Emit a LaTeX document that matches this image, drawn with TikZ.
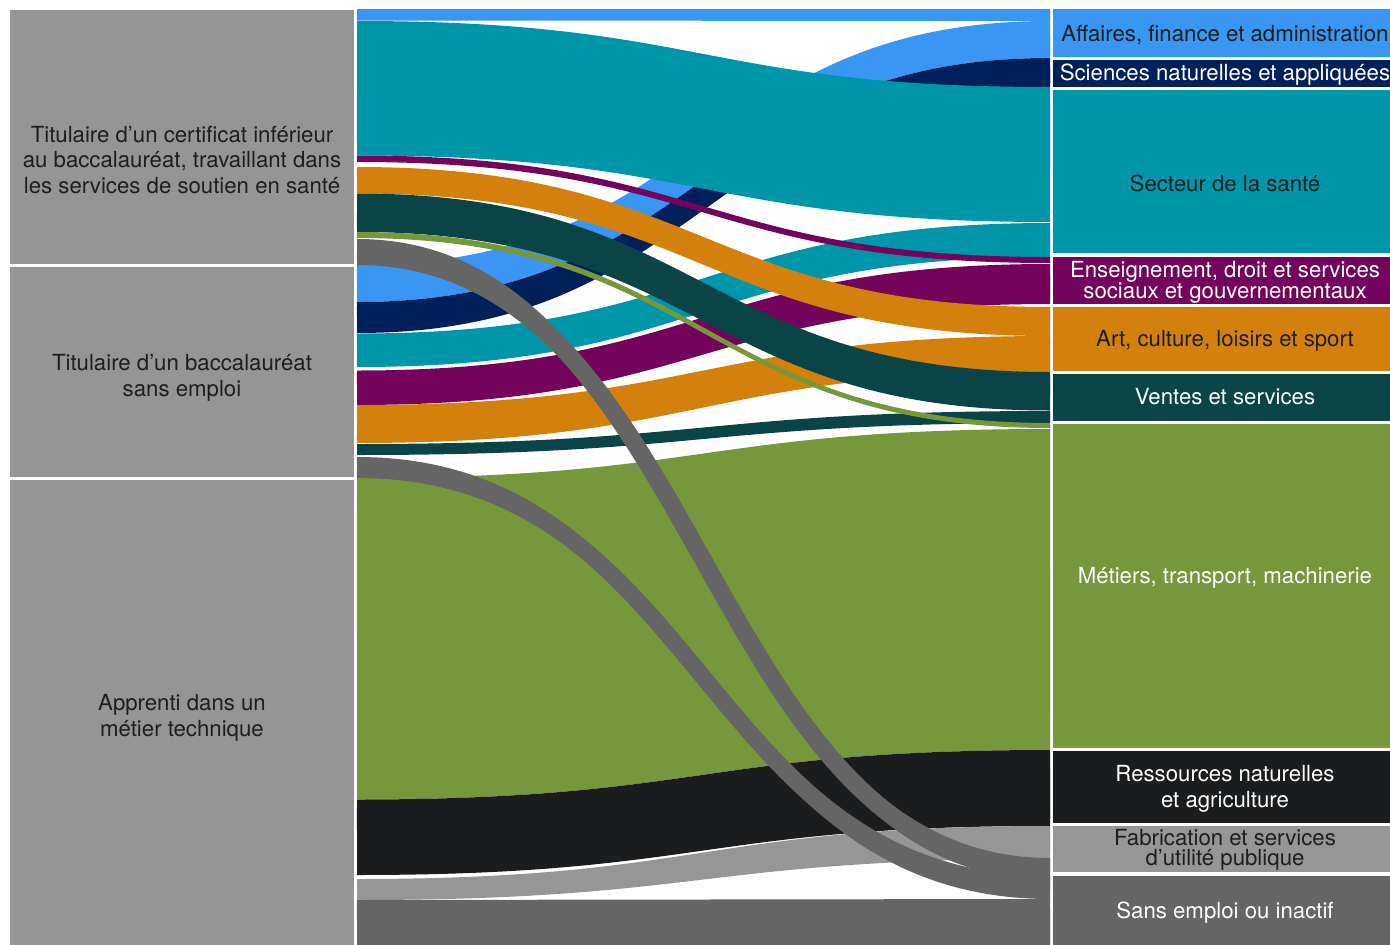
\documentclass[tikz,border=0pt]{standalone}
\usepackage{fontspec}
\setmainfont{TeX Gyre Heros}

% palette
\definecolor{srcgray}{HTML}{959595}
\definecolor{cBlue}{HTML}{3A96F3}
\definecolor{cNavy}{HTML}{00205B}
\definecolor{cTeal}{HTML}{0096A9}
\definecolor{cPurple}{HTML}{74035C}
\definecolor{cOrange}{HTML}{D4800C}
\definecolor{cDarkTeal}{HTML}{0A4446}
\definecolor{cGreen}{HTML}{76973B}
\definecolor{cBlack}{HTML}{1B1C1E}
\definecolor{cLightGray}{HTML}{969696}
\definecolor{cDarkGray}{HTML}{656565}
\definecolor{ink}{HTML}{1E1E1E}

\tikzset{
  lbl/.style={align=center, inner sep=0pt, font=\fontsize{22.2}{25.5}\selectfont, text=ink},
  lblw/.style={lbl, text=white},
}

% a Sankey ribbon: colour, left top, left bottom, right top, right bottom;
% the band is filled between two S-curves and thickened along its spine
\newcommand{\sankeylink}[5]{%
  \fill[#1] (357,#2) .. controls (703.5,#2) and (703.5,#4) .. (1050,#4)
    -- (1050,#5) .. controls (703.5,#5) and (703.5,#3) .. (357,#3) -- cycle;
  \pgfmathsetmacro\linkwd{0.8*min(#3-#2,#5-#4)}%
  \pgfmathsetmacro\linkyl{(#2+#3)/2}%
  \pgfmathsetmacro\linkyr{(#4+#5)/2}%
  \draw[#1, line width=\linkwd pt] (357,\linkyl) .. controls (703.5,\linkyl) and (703.5,\linkyr) .. (1050,\linkyr);}

\begin{document}
\begin{tikzpicture}[x=1pt,y=-1pt]
\useasboundingbox (0,0) rectangle (1390,945);

% source blocks
\fill[srcgray] (10,9.5) rectangle (354,263.5);
\fill[srcgray] (10,266.5) rectangle (354,476.5);
\fill[srcgray] (10,479.5) rectangle (354,950);

% destination blocks
\fill[cBlue]      (1053,9)     rectangle (1397,57);
\fill[cNavy]      (1053,60)    rectangle (1397,87);
\fill[cTeal]      (1053,90)    rectangle (1397,253);
\fill[cPurple]    (1053,256.5) rectangle (1397,304);
\fill[cOrange]    (1053,307)   rectangle (1397,370.5);
\fill[cDarkTeal]  (1053,374)   rectangle (1397,421);
\fill[cGreen]     (1053,424)   rectangle (1397,747.5);
\fill[cBlack]     (1053,751)   rectangle (1397,822.5);
\fill[cLightGray] (1053,826)   rectangle (1397,872);
\fill[cDarkGray]  (1053,876)   rectangle (1397,950);

% ribbons from the apprentice block
\sankeylink{cGreen}{478}{799.5}{429}{750}
\sankeylink{cBlack}{799.5}{875}{750}{826}
\sankeylink{cLightGray}{879}{900}{826}{859}
\sankeylink{cDarkGray}{900}{950}{899}{950}

% ribbons from the unemployed graduate block
\sankeylink{cBlue}{265}{302}{21}{58}
\sankeylink{cNavy}{302}{333}{58}{87}
\sankeylink{cTeal}{333.5}{367}{223}{257}
\sankeylink{cPurple}{370.5}{405}{264}{304}
\sankeylink{cOrange}{405}{443}{336}{372}
\sankeylink{cDarkTeal}{444}{455}{411}{423}
\sankeylink{cDarkGray}{457}{478}{876}{899}

% ribbons from the health support block
\sankeylink{cBlue}{9}{20.5}{9}{21}
\sankeylink{cTeal}{21}{155.5}{87}{222}
\sankeylink{cPurple}{155.5}{162}{257}{263}
\sankeylink{cOrange}{167}{193.5}{307}{336}
\sankeylink{cDarkTeal}{193.5}{232}{372}{410.5}
\sankeylink{cGreen}{232}{238}{423}{428}
\sankeylink{cDarkGray}{239}{265}{858}{880}

% source labels
\node[lbl] (srcA) at (182,160) {Titulaire d’un certificat inférieur\\au baccalauréat, travaillant dans\\les services de soutien en santé};
\node[lbl] (srcB) at (182,378) {Titulaire d’un baccalauréat\\sans emploi};
\node[lbl] (srcC) at (182,718) {Apprenti dans un\\métier technique};

% destination labels
\node[lbl]  (dAff) at (1225,35)  {Affaires, finance et administration};
\node[lblw] (dSci) at (1225,74.5) {Sciences naturelles et appliquées};
\node[lbl]  (dSan) at (1225,183) {Secteur de la santé};
\node[lblw, font=\fontsize{22.2}{21}\selectfont] (dEns) at (1225,282) {Enseignement, droit et services\\sociaux et gouvernementaux};
\node[lbl]  (dArt) at (1225,340.5) {Art, culture, loisirs et sport};
\node[lblw] (dVen) at (1225,397) {Ventes et services};
\node[lblw] (dMet) at (1225,578) {Métiers, transport, machinerie};
\node[lblw] (dRes) at (1225,789) {Ressources naturelles\\et agriculture};
\node[lbl, font=\fontsize{22.2}{20}\selectfont] (dFab) at (1225,849.5) {Fabrication et services\\d’utilité publique};
\node[lblw] (dSE)  at (1225,913) {Sans emploi ou inactif};
\end{tikzpicture}
\end{document}
